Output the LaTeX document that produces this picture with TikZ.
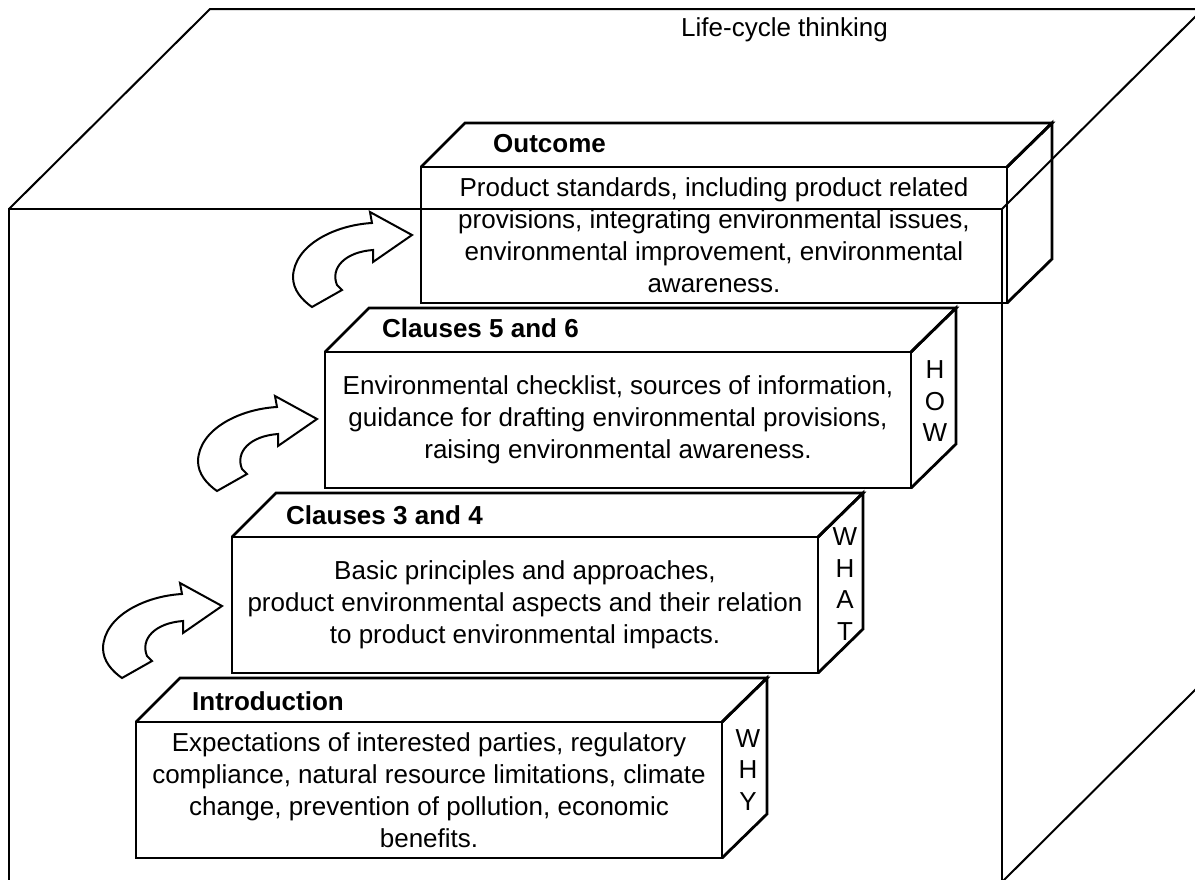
\documentclass[tikz,border=0pt]{standalone}
\usepackage{fontspec}
\setmainfont{Liberation Sans}
\usetikzlibrary{calc}
\tikzset{
  bigedge/.style={line width=2pt, line cap=butt},
  face/.style={line width=2.8pt, line join=miter},
  frontface/.style={draw, line width=2.8pt, rectangle, minimum width=586pt,
    minimum height=136pt, inner sep=0pt, outer sep=0pt, anchor=north west,
    align=center, font=\fontsize{26}{32}\selectfont},
  titletext/.style={anchor=base west, inner sep=0pt, font=\fontsize{26}{32}\selectfont\bfseries},
  plaintext/.style={anchor=base west, inner sep=0pt, font=\fontsize{26}{32}\selectfont},
  sidetext/.style={inner sep=0pt, align=center, font=\fontsize{26}{31.5}\selectfont},
  blockarrow/.style={line width=2pt, line join=miter},
  curvarrow/.pic={
    \draw[blockarrow] (0,0) -- (-42,-23) -- (-40,-12)
      .. controls (-77,-10) and (-118,10) .. (-119,42)
      .. controls (-119,55) and (-110,65) .. (-100,72)
      -- (-70,55) -- (-75,50)
      .. controls (-82,33) and (-67,17) .. (-39,15)
      -- (-39,27) -- cycle;
  }
}
\begin{document}
\begin{tikzpicture}[x=1pt,y=-1pt]
\useasboundingbox (0,0) rectangle (1195,879);
\clip (0,0) rectangle (1195,879);

% large life-cycle box
\coordinate (ftl) at (9,209);
\coordinate (ftr) at (1002,209);
\coordinate (fbl) at (9,882);
\coordinate (fbr) at (1002,882);
\coordinate (btl) at (210,9);
\coordinate (btr) at (1203,9);
\coordinate (bbr) at (1203,682);
\draw[bigedge] (fbl) -- (ftl) -- (ftr) -- (fbr);
\draw[bigedge] (ftl) -- (btl) -- (btr);
\draw[bigedge] (ftr) -- (btr);
\draw[bigedge] (fbr) -- (bbr);
\node[plaintext] (lct) at (681,36) {Life-cycle thinking};

% Outcome box
\node[frontface] (outc) at (421,167) {Product standards, including product related\\provisions, integrating environmental issues,\\environmental improvement, environmental\\awareness.};
\draw[face] (outc.north west) -- ++(44,-44) -- ($(outc.north east)+(45,-44)$) -- (outc.north east);
\draw[face] (outc.north east) -- ++(45,-44) -- ++(0,136) -- (outc.south east);
\node[titletext] (t-outc) at (493,152.5) {Outcome};

% Clauses 5 and 6 box
\node[frontface] (cl56) at (325,352) {Environmental checklist, sources of information,\\guidance for drafting environmental provisions,\\raising environmental awareness.};
\draw[face] (cl56.north west) -- ++(44,-44) -- ($(cl56.north east)+(45,-44)$) -- (cl56.north east);
\draw[face] (cl56.north east) -- ++(45,-44) -- ++(0,136) -- (cl56.south east);
\node[titletext] (t-cl56) at (382,337.5) {Clauses 5 and 6};
\node[sidetext] (s-how) at (935,401.5) {H\\O\\W};

% Clauses 3 and 4 box
\node[frontface] (cl34) at (232,537) {Basic principles and approaches,\\product environmental aspects and their relation\\to product environmental impacts.};
\draw[face] (cl34.north west) -- ++(44,-44) -- ($(cl34.north east)+(45,-44)$) -- (cl34.north east);
\draw[face] (cl34.north east) -- ++(45,-44) -- ++(0,136) -- (cl34.south east);
\node[titletext] (t-cl34) at (286,524) {Clauses 3 and 4};
\node[sidetext] (s-what) at (845,584) {W\\H\\A\\T};

% Introduction box
\node[frontface] (intro) at (136,722) {Expectations of interested parties, regulatory\\compliance, natural resource limitations, climate\\change, prevention of pollution, economic\\benefits.};
\draw[face] (intro.north west) -- ++(44,-44) -- ($(intro.north east)+(45,-44)$) -- (intro.north east);
\draw[face] (intro.north east) -- ++(45,-44) -- ++(0,136) -- (intro.south east);
\node[titletext] (t-intro) at (192,710) {Introduction};
\node[sidetext] (s-why) at (748,770) {W\\H\\Y};

% curved block arrows
\pic (a1) at (412,235) {curvarrow};
\pic (a2) at (317,419) {curvarrow};
\pic (a3) at (222,606) {curvarrow};
\end{tikzpicture}
\end{document}
